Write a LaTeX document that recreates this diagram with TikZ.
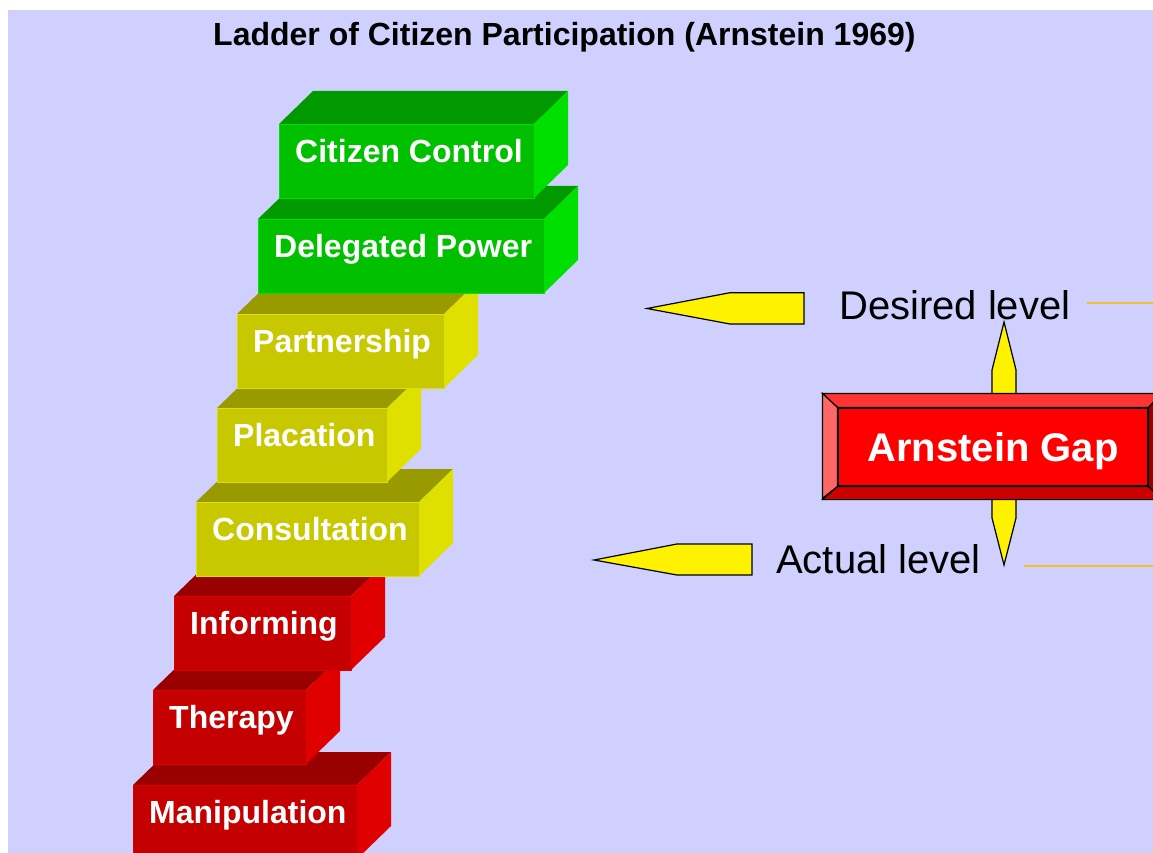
\documentclass[tikz,border=0pt]{standalone}
\usepackage{fontspec}
\setmainfont{Liberation Sans}

\definecolor{bgblue}{RGB}{208,208,255}
\definecolor{frontgrn}{RGB}{0,192,0}
\definecolor{topgrn}{RGB}{0,153,0}
\definecolor{sidegrn}{RGB}{0,224,0}
\definecolor{frontylw}{RGB}{200,200,0}
\definecolor{topylw}{RGB}{153,153,0}
\definecolor{sideylw}{RGB}{224,224,0}
\definecolor{frontred}{RGB}{196,0,0}
\definecolor{topred}{RGB}{153,0,0}
\definecolor{sidered}{RGB}{224,0,0}
\definecolor{gapred}{RGB}{255,0,0}
\definecolor{levelline}{RGB}{240,192,48}

\tikzset{
  rungface/.style={anchor=north west, inner sep=0pt, minimum height=74pt, line width=1pt},
  runglabel/.style={anchor=base west, inner sep=0pt, text=white,
    font=\fontsize{32}{38}\selectfont\bfseries},
  levellabel/.style={anchor=base west, inner sep=0pt, font=\fontsize{40}{48}\selectfont},
  pointer/.style={fill=yellow, draw=black, line width=1.2pt, line join=miter},
}

\begin{document}
\begin{tikzpicture}[x=1pt,y=-1pt]
  \useasboundingbox (0,0) rectangle (1153,853);
  \clip (0,0) rectangle (1153,853);
  \fill[white] (0,0) rectangle (1153,853);
  \fill[bgblue] (8,10) rectangle (1153,853);

  \node[anchor=base west, inner sep=0pt, font=\fontsize{32}{38}\selectfont\bfseries] (title)
    at (213,46) {Ladder of Citizen Participation (Arnstein 1969)};

  % the ladder, lowest rung first
  \foreach \x/\y/\w/\col/\n/\t in {133/785/224/red/manip/Manipulation,
                                   153/690/153/red/therapy/Therapy,
                                   174/596/177/red/inform/Informing,
                                   196/502/223/ylw/consult/Consultation,
                                   217/408/170/ylw/placate/Placation,
                                   237/314/207/ylw/partner/Partnership,
                                   258/219/286/grn/delegate/Delegated Power,
                                   279/124/255/grn/control/Citizen Control}{
    \fill[top\col] (\x,\y) -- ++(34,-33) -- ++(\w,0) -- ++(-34,33) -- cycle;
    \fill[side\col] (\x+\w,\y) -- ++(34,-33) -- ++(0,74) -- ++(-34,33) -- cycle;
    \node[rungface, fill=front\col, draw=side\col, minimum width=\w pt] (\n) at (\x,\y) {};
    \node[runglabel] (\n-label) at ([xshift=16pt,yshift=-38.5pt]\n.north west) {\t};
  }

  % pointers to the two levels
  \fill[pointer] (647,308.5) -- (730,292.7) -- (804,292.7) -- (804,324) -- (730,324) -- cycle;
  \fill[pointer] (594,560) -- (677,544) -- (752,544) -- (752,575) -- (677,575) -- cycle;

  \node[levellabel] (desired) at (839,319) {Desired level};
  \node[levellabel] (actual) at (776,573) {Actual level};
  \draw[levelline, line width=2pt] (1087,303) -- (1153,303);
  \draw[levelline, line width=2pt] (1024,566) -- (1153,566);

  % gap span
  \fill[pointer] (992,370) -- (1004,322) -- (1016,370) -- (1016,518) -- (1004,565) -- (992,518) -- cycle;

  % gap box with bevel
  \node[fill=gapred, draw=black, line width=1.2pt, inner sep=0pt, minimum width=310pt,
        minimum height=78pt, text depth=0pt, text=white,
        font=\fontsize{40}{48}\selectfont\bfseries] (gap) at (993,447) {Arnstein Gap};
  \fill[red!80!white, draw=black, line width=1.2pt] (gap.north west) -- ++(-15,-14) -- ++(339,0)
    -- (gap.north east) -- cycle;
  \fill[red!60!white, draw=black, line width=1.2pt] (gap.north west) -- ++(-15,-14) -- ++(0,105)
    -- (gap.south west) -- cycle;
  \fill[red!80!black, draw=black, line width=1.2pt] (gap.south west) -- ++(-15,13) -- ++(339,0)
    -- (gap.south east) -- cycle;
  \fill[red!60!black, draw=black, line width=1.2pt] (gap.north east) -- ++(14,-14) -- ++(0,105)
    -- (gap.south east) -- cycle;
\end{tikzpicture}
\end{document}
